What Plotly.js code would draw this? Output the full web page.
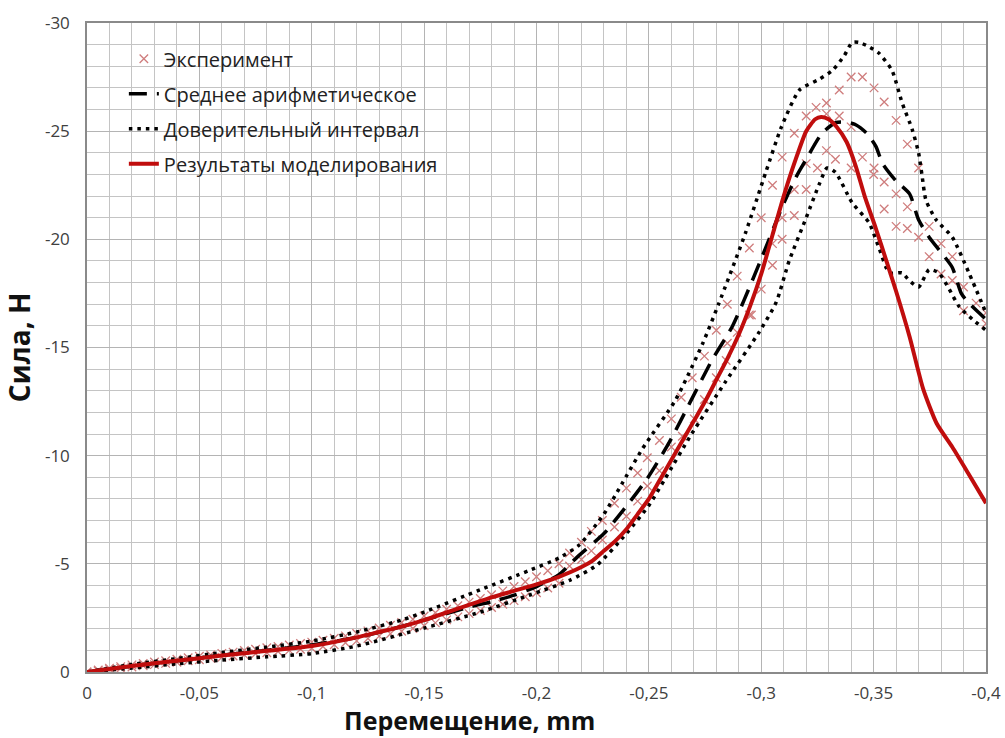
<!DOCTYPE html>
<html><head><meta charset="utf-8">
<script src="https://cdn.plot.ly/plotly-3.0.1.min.js"></script>
<style>html,body{margin:0;padding:0;background:#fff}</style>
</head><body>
<div id="chart" style="width:1005px;height:738px"></div>
<script>
// Results of modelling (red)
const modelX = [0,-0.02,-0.04,-0.06,-0.08,-0.1,-0.12,-0.13,-0.14,-0.15,-0.16,-0.17,-0.18,-0.19,-0.2,-0.21,-0.22,-0.225,-0.23,-0.235,-0.24,-0.245,-0.25,-0.255,-0.26,-0.265,-0.27,-0.275,-0.28,-0.285,-0.29,-0.295,-0.3,-0.305,-0.31,-0.315,-0.32,-0.324,-0.3267,-0.33,-0.3335,-0.338,-0.342,-0.346,-0.351,-0.356,-0.36,-0.366,-0.372,-0.378,-0.385,-0.392,-0.4];
const modelY = [0,-0.28,-0.52,-0.76,-0.98,-1.2,-1.6,-1.85,-2.1,-2.4,-2.75,-3.1,-3.45,-3.75,-4.05,-4.4,-4.85,-5.15,-5.6,-6.05,-6.6,-7.3,-8.0,-8.9,-9.8,-10.7,-11.6,-12.5,-13.5,-14.5,-15.6,-16.9,-18.4,-20.2,-22.0,-23.6,-25.0,-25.55,-25.66,-25.55,-25.2,-24.5,-23.4,-22.0,-20.5,-18.9,-17.6,-15.5,-13.1,-11.5,-10.4,-9.2,-7.8];

// Arithmetic mean (black dashed)
const meanX = [0,-0.02,-0.04,-0.06,-0.08,-0.1,-0.12,-0.14,-0.15,-0.16,-0.17,-0.18,-0.19,-0.2,-0.21,-0.218,-0.23,-0.238,-0.249,-0.259,-0.269,-0.278,-0.287,-0.2924,-0.3004,-0.3093,-0.3156,-0.32,-0.327,-0.3333,-0.339,-0.342,-0.347,-0.351,-0.354,-0.36,-0.366,-0.37,-0.3747,-0.38,-0.385,-0.389,-0.3924,-0.4];
const meanY = [0,-0.28,-0.52,-0.78,-1.0,-1.25,-1.6,-2.1,-2.4,-2.7,-3.0,-3.25,-3.55,-3.95,-4.5,-5.3,-6.4,-7.4,-8.9,-10.6,-12.6,-14.4,-15.95,-17.2,-19.2,-21.5,-22.9,-23.7,-24.9,-25.4,-25.4,-25.3,-24.9,-24.3,-23.5,-22.7,-22.1,-20.9,-20.1,-19.4,-18.7,-17.5,-17.05,-16.3];

// Confidence interval (black dotted), upper and lower bounds
const upperX = [0,-0.02,-0.04,-0.06,-0.08,-0.1,-0.12,-0.14,-0.15,-0.175,-0.197,-0.21,-0.219,-0.23,-0.238,-0.247,-0.262,-0.274,-0.281,-0.293,-0.302,-0.309,-0.317,-0.3258,-0.3316,-0.337,-0.3404,-0.3436,-0.348,-0.3524,-0.3582,-0.3627,-0.3671,-0.37,-0.3716,-0.3733,-0.3778,-0.385,-0.3924,-0.4];
const upperY = [0,-0.35,-0.62,-0.9,-1.15,-1.43,-1.85,-2.4,-2.77,-3.8,-4.7,-5.27,-5.87,-7.3,-8.7,-10.3,-12.6,-15.2,-17.0,-20.3,-23.1,-25.2,-26.9,-27.4,-27.8,-28.5,-29.1,-29.1,-28.9,-28.6,-27.8,-26.3,-25.1,-24.0,-22.9,-21.8,-20.9,-20.1,-18.45,-16.6];
const lowerX = [0,-0.02,-0.04,-0.06,-0.08,-0.1,-0.12,-0.15,-0.175,-0.197,-0.215,-0.227,-0.24,-0.25,-0.257,-0.269,-0.284,-0.299,-0.3067,-0.3124,-0.32,-0.326,-0.3293,-0.333,-0.3404,-0.348,-0.3524,-0.357,-0.3627,-0.3658,-0.37,-0.3747,-0.379,-0.3836,-0.388,-0.394,-0.4];
const lowerY = [0,-0.18,-0.38,-0.55,-0.7,-0.85,-1.2,-2.03,-2.77,-3.56,-4.25,-4.95,-6.4,-7.7,-8.9,-11.0,-13.4,-15.7,-17.1,-19.0,-21.0,-22.6,-23.3,-23.1,-21.7,-20.76,-19.6,-18.45,-18.45,-18.1,-17.8,-18.6,-18.45,-17.7,-16.9,-16.3,-15.8];

// Experiment (crosses), low region: two runs at the same displacements
const expLowX = [0,-0.005,-0.01,-0.015,-0.02,-0.025,-0.03,-0.035,-0.04,-0.045,-0.05,-0.055,-0.06,-0.065,-0.07,-0.075,-0.08,-0.085,-0.09,-0.095,-0.1,-0.105,-0.11,-0.115,-0.12,-0.125,-0.13,-0.135,-0.14,-0.145,-0.15,-0.155,-0.16,-0.165,-0.17,-0.175,-0.18,-0.185,-0.19,-0.195,-0.2,-0.205,-0.21];
const expLowA = [0,-0.09,-0.17,-0.25,-0.33,-0.39,-0.46,-0.52,-0.59,-0.66,-0.73,-0.79,-0.86,-0.92,-0.99,-1.05,-1.12,-1.18,-1.25,-1.32,-1.38,-1.47,-1.56,-1.67,-1.78,-1.9,-2.03,-2.16,-2.29,-2.44,-2.59,-2.74,-2.9,-3.06,-3.23,-3.4,-3.57,-3.75,-3.95,-4.17,-4.4,-4.68,-5.0];
const expLowB = [0,-0.05,-0.11,-0.17,-0.23,-0.29,-0.34,-0.4,-0.45,-0.52,-0.57,-0.63,-0.68,-0.74,-0.79,-0.84,-0.89,-0.95,-1.0,-1.05,-1.1,-1.18,-1.26,-1.35,-1.44,-1.55,-1.66,-1.77,-1.88,-2.01,-2.14,-2.27,-2.41,-2.55,-2.7,-2.84,-2.98,-3.13,-3.3,-3.48,-3.66,-3.88,-4.1];
// Experiment (crosses), peak region
const expHighX = [-0.2147,-0.22,-0.2244,-0.2293,-0.2347,-0.24,-0.245,-0.2493,-0.2547,-0.26,-0.2644,-0.2693,-0.2747,-0.28,-0.2849,-0.2893,-0.2947,-0.3,-0.305,-0.3093,-0.3147,-0.32,-0.3244,-0.329,-0.3347,-0.34,-0.345,-0.3502,-0.3547,-0.36,-0.365,-0.37,
  -0.2147,-0.22,-0.2244,-0.2293,-0.2347,-0.24,-0.245,-0.2493,-0.2547,-0.26,-0.2649,-0.2702,-0.2747,-0.28,-0.2844,-0.2849,-0.2893,-0.2947,-0.2956,-0.3,-0.305,-0.305,-0.3093,-0.3093,-0.3147,-0.3147,-0.32,-0.32,-0.325,-0.329,-0.329,-0.333,-0.3347,-0.34,-0.34,-0.345,-0.3502,-0.35,-0.3547,-0.3547,-0.36,-0.365,-0.36,-0.365,-0.37,-0.3747,-0.3747,-0.38,-0.38,-0.385,-0.385,-0.39,-0.39,-0.3956,-0.4,-0.4];
const expHighY = [-5.5,-6.0,-6.5,-7.0,-7.8,-8.5,-9.2,-9.9,-10.7,-11.7,-12.7,-13.6,-14.6,-15.8,-17.0,-18.3,-19.6,-21.0,-22.5,-23.8,-24.9,-25.7,-26.1,-26.3,-26.9,-27.5,-27.5,-27.0,-26.35,-25.5,-24.4,-23.3,
  -4.9,-5.2,-5.6,-6.1,-6.7,-7.2,-7.9,-8.6,-9.3,-10.4,-10.9,-11.7,-12.6,-13.6,-14.4,-15.2,-15.7,-16.5,-16.5,-17.7,-18.8,-19.8,-20.0,-21.0,-21.1,-22.3,-22.3,-23.5,-23.3,-24.1,-25.8,-23.7,-25.7,-25.2,-23.3,-23.8,-23.3,-23.0,-22.65,-21.4,-22.1,-21.5,-20.6,-20.5,-20.1,-20.6,-19.2,-19.8,-18.4,-19.2,-18.1,-17.8,-16.7,-17.05,-16.6,-16.1];

const xTickVals = [0,-0.05,-0.1,-0.15,-0.2,-0.25,-0.3,-0.35,-0.4];
const xTickText = ['0','-0,05','-0,1','-0,15','-0,2','-0,25','-0,3','-0,35','-0,4'];
const yTickVals = [0,-5,-10,-15,-20,-25,-30];
const yTickText = ['0','-5','-10','-15','-20','-25','-30'];

const expX = expLowX.concat(expLowX, expHighX);
const expY = expLowA.concat(expLowB, expHighY);

const FONT = 'Open Sans, sans-serif';
const traces = [
  {x: expX, y: expY, mode: 'markers', type: 'scatter', name: 'Эксперимент', legendgroup: 'g1',
   marker: {symbol: 'x-thin-open', size: 8.5, color: '#cf7d7d', line: {width: 1.3, color: '#cf7d7d'}}},
  {x: meanX, y: meanY, mode: 'lines', type: 'scatter', name: 'Среднее арифметическое', legendgroup: 'g2',
   line: {color: '#000', width: 3.5, dash: '18px,10px', shape: 'spline', smoothing: 0.6}},
  {x: upperX, y: upperY, mode: 'lines', type: 'scatter', name: 'Доверительный интервал', legendgroup: 'g3',
   line: {color: '#000', width: 3.5, dash: '3.5px,5px', shape: 'spline', smoothing: 0.6}},
  {x: lowerX, y: lowerY, mode: 'lines', type: 'scatter', name: 'Доверительный интервал', legendgroup: 'g3', showlegend: false,
   line: {color: '#000', width: 3.5, dash: '3.5px,5px', shape: 'spline', smoothing: 0.6}},
  {x: modelX, y: modelY, mode: 'lines', type: 'scatter', name: 'Результаты моделирования', legendgroup: 'g4',
   line: {color: '#c00d0d', width: 4, shape: 'spline', smoothing: 0.6}}
];

const axisCommon = {
  showgrid: true, gridcolor: '#b4b4b4', gridwidth: 1,
  zeroline: false, showline: true, mirror: true, linecolor: '#8a8a8a', linewidth: 1.5,
  ticks: '', tickfont: {family: FONT, size: 17, color: '#404040'}, tickmode: 'array'
};

const layout = {
  width: 1005, height: 738,
  margin: {l: 87, r: 19, t: 23, b: 66},
  paper_bgcolor: '#fff', plot_bgcolor: '#fff',
  font: {family: FONT, color: '#222'},
  showlegend: true,
  legend: {x: 0.041, y: 0.975, xanchor: 'left', yanchor: 'top', bgcolor: 'rgba(0,0,0,0)',
    font: {family: FONT, size: 20, color: '#222'}, traceorder: 'grouped', tracegroupgap: 6},
  xaxis: Object.assign({}, axisCommon, {
    range: [0, -0.4], tickvals: xTickVals, ticktext: xTickText, ticklabelstandoff: 5,
    minor: {dtick: 0.01, tick0: 0, showgrid: true, gridcolor: '#c4c4c4', gridwidth: 1}
  }),
  yaxis: Object.assign({}, axisCommon, {
    range: [0, -30], tickvals: yTickVals, ticktext: yTickText, ticklabelstandoff: 12,
    minor: {dtick: 1, tick0: 0, showgrid: true, gridcolor: '#c4c4c4', gridwidth: 1},
    title: {text: '<b>Сила, Н</b>', font: {family: FONT, size: 28, color: '#111'}, standoff: 8}
  }),
  annotations: [{
    text: '<b>Перемещение, mm</b>', xref: 'paper', yref: 'paper', x: 0.425, y: -0.0745,
    xanchor: 'center', yanchor: 'middle', showarrow: false, borderpad: 0,
    font: {family: FONT, size: 25, color: '#111'}
  }]
};

Plotly.newPlot('chart', traces, layout, {displayModeBar: false, responsive: false});
</script>
</body></html>
